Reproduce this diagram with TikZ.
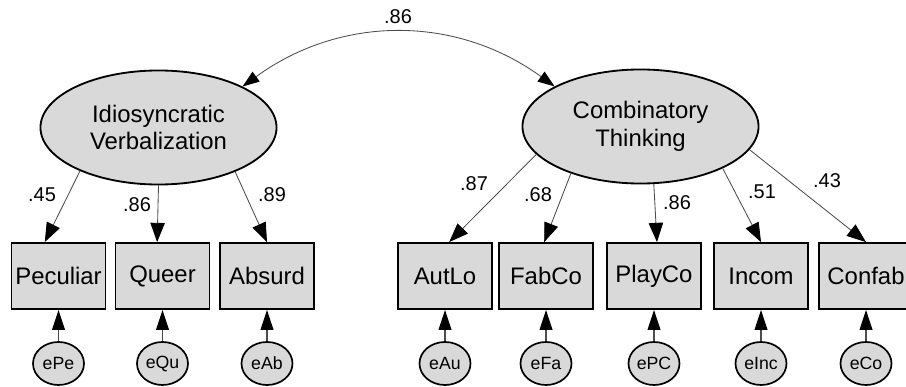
\documentclass[tikz,border=0pt]{standalone}
\usepackage{fontspec}
\setmainfont{Liberation Sans}
\usetikzlibrary{shapes.geometric}
\usetikzlibrary{arrows.meta}

\definecolor{semgray}{RGB}{217,217,217}

\tikzset{
  latent/.style={ellipse, draw, line width=1.3pt, fill=semgray, minimum width=5.9cm,
    minimum height=2.85cm, inner sep=0pt, align=center, font=\fontsize{17}{19.5}\selectfont},
  observed/.style={rectangle, draw, line width=1.3pt, fill=semgray, minimum width=2.35cm,
    minimum height=1.65cm, inner sep=0pt, font=\fontsize{17}{19}\selectfont},
  resid/.style={ellipse, draw, line width=1.2pt, fill=semgray, minimum width=1.275cm,
    minimum height=1.075cm, inner sep=0pt, font=\fontsize{12.6}{14}\selectfont},
  loading/.style={draw=black!70, line width=0.6pt, -{Triangle[length=0.48cm,width=0.36cm,color=black]}},
  errarrow/.style={draw=black!70, line width=0.8pt, -{Triangle[length=0.5cm,width=0.32cm,color=black]}},
  coef/.style={inner sep=0pt, font=\fontsize{14.2}{16}\selectfont}
}

\begin{document}
\begin{tikzpicture}[x=0.025cm, y=-0.025cm]
    \useasboundingbox (0,0) rectangle (906,387);
    % Factors.
    \node[latent] (IV) at (158.5,127.5) {Idiosyncratic\\Verbalization};
    \node[latent] (CT) at (640.5,126.5) {Combinatory\\Thinking};
    % Indicators and their errors.
    \foreach \n/\x/\e in {Peculiar/58.5/ePe, Queer/162.5/eQu, Absurd/267/eAb, AutLo/445/eAu,
      FabCo/546/eFa, PlayCo/654/ePC, Incom/761/eInc, Confab/866/eCo}
    {
      \node[observed] (\n) at (\x,276) {\n};
      \node[resid] (\e) at (\x,363.5) {\e};
      \draw[errarrow] (\e) -- (\n);
    }
    % Loadings.
    \foreach \f/\fa/\n/\na/\v/\lx/\ly in {IV/209/Peculiar/112/.45/42/195, IV/270/Queer/99/.86/137/205,
      IV/330/Absurd/90/.89/272/195, CT/195/AutLo/83/.87/474/184, CT/214/FabCo/93/.68/538/195,
      CT/283/PlayCo/85/.86/677/203, CT/333/Incom/90/.51/762/192, CT/348/Confab/90/.43/827/181}
    {
      \draw[loading] (\f.\fa) -- (\n.\na);
      \node[coef] (c\n) at (\lx,\ly) {\v};
    }
    % Correlation.
    \draw[draw=black!70, line width=0.6pt,
      {Triangle[length=0.42cm,width=0.3cm,color=black]}-{Triangle[length=0.42cm,width=0.3cm,color=black]}]
      (IV.26) to[bend left=36] (CT.155);
    \node[coef] (ccov) at (398,17) {.86};
\end{tikzpicture}
\end{document}
